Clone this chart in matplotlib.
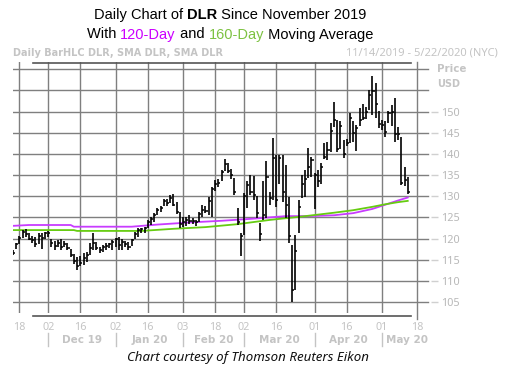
import matplotlib
matplotlib.use('Agg')
import matplotlib.pyplot as plt
from matplotlib.transforms import blended_transform_factory
from matplotlib.lines import Line2D

W, H = 509, 378

# daily bars, index 0 = 11/14/2019 (trading days)
highs = [117.4, 119.0, 120.6, 122.0, 122.2, 121.2, 120.6, 120.4, 121.2, 121.2,
         121.6, 121.8, 119.8, 119.4, 119.6, 119.8, 119.4, 119.0, 117.6, 116.4,
         115.6, 115.8, 116.5, 116.9, 118.9, 121.2, 119.3, 118.1, 118.5, 118.9,
         119.0, 119.6, 120.2, 120.4, 120.0, 119.5, 119.3, 120.0, 121.6, 122.4,
         122.6, 122.8, 124.4, 125.0, 126.1, 127.3, 127.6, 129.4, 129.4, 130.2,
         130.5, 128.7, 126.3, 125.1, 125.1, 125.5, 124.9, 124.5, 126.3, 127.9,
         127.6, 129.8, 132.2, 133.9, 134.0, 136.3, 138.7, 137.8, 136.5, 134.3,
         127.2, 121.3, 130.8, 133.5, 135.1, 134.7, 130.0, 123.7, 133.5, 138.3,
         131.0, 143.8, 139.7, 139.7, 139.7, 137.4, 129.9, 118.5, 120.8, 129.1,
         135.0, 136.2, 141.3, 139.3, 135.4, 136.2, 137.8, 142.5, 142.9, 147.2,
         152.3, 148.0, 147.7, 143.3, 143.5, 149.7, 147.7, 146.9, 150.9, 151.7,
         151.0, 155.2, 158.4, 156.8, 150.1, 148.1, 147.7, 150.1, 151.5, 153.2,
         146.4, 143.9, 137.0, 134.6]
lows = [116.0, 117.5, 118.8, 120.2, 120.4, 119.6, 119.0, 118.0, 118.8, 117.6,
        120.0, 120.4, 118.0, 117.4, 117.9, 117.2, 117.9, 117.4, 115.6, 114.0,
        112.5, 113.4, 113.7, 114.5, 116.1, 117.3, 117.3, 116.5, 116.9, 117.3,
        117.7, 117.3, 118.1, 117.3, 117.3, 118.0, 117.3, 118.2, 120.0, 120.4,
        121.2, 121.3, 122.4, 123.2, 124.0, 125.5, 126.3, 127.6, 127.6, 128.3,
        127.6, 125.9, 122.6, 122.8, 123.0, 123.4, 123.4, 122.9, 123.9, 125.1,
        126.0, 125.5, 125.1, 131.2, 132.2, 133.5, 135.9, 135.5, 134.1, 130.4,
        123.3, 115.8, 120.9, 127.2, 130.4, 129.2, 124.9, 119.4, 124.5, 124.9,
        128.0, 129.2, 127.5, 133.0, 128.7, 124.8, 118.9, 105.1, 107.8, 121.2,
        129.5, 129.9, 134.2, 134.6, 127.1, 132.2, 133.0, 138.9, 138.5, 140.5,
        146.4, 140.5, 141.2, 139.0, 141.8, 142.5, 142.9, 140.6, 146.5, 148.1,
        148.2, 150.5, 149.3, 148.5, 146.1, 145.7, 144.1, 147.3, 146.5, 142.9,
        143.3, 132.7, 132.4, 130.5]
closes = [116.6, 118.6, 120.2, 121.6, 121.0, 120.0, 119.6, 118.6, 120.6, 120.2,
          121.2, 121.4, 119.0, 118.2, 119.0, 118.0, 118.8, 117.8, 116.0, 114.6,
          113.6, 114.2, 115.4, 116.2, 117.8, 119.0, 117.8, 117.2, 118.0, 118.2,
          118.6, 119.2, 119.8, 118.4, 119.2, 118.8, 118.0, 119.6, 121.0, 122.0,
          122.2, 122.4, 123.8, 124.6, 125.6, 126.8, 127.2, 128.8, 128.4, 129.6,
          128.0, 126.3, 123.4, 124.0, 124.4, 124.2, 124.2, 123.8, 125.8, 126.8,
          126.4, 128.8, 131.6, 133.0, 133.2, 135.8, 137.6, 136.0, 135.0, 131.0,
          124.0, 120.6, 130.0, 132.6, 131.0, 130.2, 126.0, 121.0, 125.5, 134.5,
          129.5, 139.0, 129.0, 139.0, 131.0, 128.0, 120.5, 107.8, 117.0, 127.5,
          133.0, 134.0, 137.0, 138.5, 135.0, 133.5, 137.0, 139.3, 141.0, 145.5,
          148.0, 141.2, 146.5, 140.0, 142.6, 148.5, 145.0, 146.2, 148.0, 148.6,
          150.0, 154.0, 154.8, 151.8, 147.0, 146.8, 145.2, 149.6, 149.8, 144.8,
          144.6, 133.2, 133.8, 131.0]

# moving averages read at a few bars
ma120_idx = [0, 5, 18, 19, 37, 45, 55, 65, 75, 85, 92, 100, 106, 112, 116, 120, 123]
ma120 = [123.0, 123.2, 123.2, 122.8, 122.8, 123.3, 123.8, 124.2, 124.7, 125.3,
         125.3, 125.5, 126.0, 127.0, 128.0, 129.0, 129.7]
ma160_idx = [0, 19, 20, 40, 50, 60, 70, 80, 90, 100, 106, 112, 116, 120, 123]
ma160 = [122.0, 122.0, 121.8, 121.8, 122.3, 122.7, 123.4, 124.4, 125.2, 126.1,
         126.7, 127.5, 128.1, 128.6, 128.9]

day_ticks = [2, 11, 21, 32, 42, 53, 63, 72, 82, 94, 104, 115, 126]
day_labels = ['18', '02', '16', '02', '16', '03', '18', '02', '16', '01', '16', '01', '18']
month_bounds = [11, 32, 53, 72, 94, 115]
month_labels = ['Dec 19', 'Jan 20', 'Feb 20', 'Mar 20', 'Apr 20', 'May 20']
price_ticks = [105, 110, 115, 120, 125, 130, 135, 140, 145, 150]
grid_levels = [105, 110, 115, 120, 125, 130, 135, 140, 145, 150, 155, 160]

MAGENTA = '#cc00ff'
GREEN = '#7dc242'
LIGHT = '#c4c4c4'
GRID = '#7f7f7f'
SMALL = 'Noto Sans'
BOLD = 'DejaVu Sans'


def fx(x):
    return x / W


def fy(y):
    return 1 - y / H


fig = plt.figure(figsize=(W / 100, H / 100), dpi=100)
fig.patch.set_facecolor('white')
renderer = fig.canvas.get_renderer()


def fit(t, width):
    # scale a text so it spans the given pixel width
    w = t.get_window_extent(renderer).width
    t.set_fontsize(t.get_fontsize() * width / w)
    return t


# plot area in pixels: x 12.7..431, y 62..313
ax = fig.add_axes([fx(12.7), fy(313), (431 - 12.7) / W, (313 - 62) / H])
ax.set_xlim(-0.06, 130.25)
ax.set_ylim(102.4, 161.73)
for s in ax.spines.values():
    s.set_visible(False)

for lev in grid_levels:
    ax.axhline(lev, xmin=0, xmax=(428 - 12.7) / (431 - 12.7), color=GRID, lw=1, zorder=1)
for t in day_ticks[:-1]:
    ax.axvline(t, color=GRID, lw=1, zorder=1)
ax.axvline(day_ticks[-1], ymin=-6 / 251, ymax=1, color=GRID, lw=1, zorder=1, clip_on=False)

ax.plot(ma120_idx, ma120, color='#c83cff', lw=1.3, zorder=2)
ax.plot(ma160_idx, ma160, color='#66cc11', lw=1.3, zorder=2)

idx = list(range(len(closes)))
ax.vlines(idx, lows, highs, color='black', lw=1.2, zorder=3)
ax.hlines(closes, idx, [i + 0.65 for i in idx], color='black', lw=1.1, zorder=3)

ax.set_xticks([])
ax.yaxis.tick_right()
ax.set_yticks(price_ticks)
ax.set_yticklabels([str(p) for p in price_ticks])
ax.tick_params(axis='y', length=5, width=1, color='#d0d0d0', labelcolor='#b8b8b8',
               pad=2, labelsize=7.8)
for lab in ax.get_yticklabels():
    lab.set_family(SMALL)

# dark bars above and below the plot
fig.add_artist(Line2D([fx(33), fx(411)], [fy(62.5), fy(62.5)], color='#555555', lw=1.2))
fig.add_artist(Line2D([fx(33), fx(411)], [fy(316), fy(316)], color='#555555', lw=1.2))

# date axis
tr = blended_transform_factory(ax.transData, fig.transFigure)
for t, lab in zip(day_ticks, day_labels):
    ax.text(t, fy(327), lab, transform=tr, ha='center', va='center', color=LIGHT,
            fontsize=7.8, family=SMALL, clip_on=False)
ends = month_bounds[1:] + [130.4]
for b in month_bounds:
    ax.add_line(Line2D([b, b], [fy(333), fy(346)], transform=tr, color=LIGHT, lw=1, clip_on=False))
month_size = None
for b0, b1, lab in zip(month_bounds, ends, month_labels):
    t = ax.text((b0 + b1) / 2, fy(340), lab, transform=tr, ha='center', va='center',
                color=LIGHT, fontsize=8, fontweight='bold', family=BOLD, clip_on=False)
    if month_size is None:
        month_size = fit(t, 40).get_fontsize()
    t.set_fontsize(month_size)

fit(fig.text(fx(437), fy(69), 'Price', color=LIGHT, fontsize=8, fontweight='bold',
             family=BOLD, va='center', ha='left'), 29)
fit(fig.text(fx(437), fy(84), 'USD', color=LIGHT, fontsize=8, fontweight='bold',
             family=BOLD, va='center', ha='left'), 23)

fit(fig.text(fx(13), fy(53), 'Daily BarHLC DLR, SMA DLR, SMA DLR', color=LIGHT,
             fontsize=8.0, fontweight='bold', family=BOLD, va='center', ha='left'), 211)
fit(fig.text(fx(498), fy(53), '11/14/2019 - 5/22/2020 (NYC)', color=LIGHT,
             fontsize=8.0, family=SMALL, va='center', ha='right'), 152)

fit(fig.text(fx(248), fy(357), 'Chart courtesy of Thomson Reuters Eikon', color='#111111',
             fontsize=9.3, style='italic', family=SMALL, va='center', ha='center'), 242)


def draw_pieces(pieces, xc, y, size):
    texts = []
    for s, c, w in pieces:
        texts.append(fig.text(0, fy(y), s, color=c, fontweight=w, fontsize=size,
                              family='Liberation Sans', va='center', ha='left'))
    widths = [t.get_window_extent(renderer).width for t in texts]
    x = xc - sum(widths) / 2
    for t, w in zip(texts, widths):
        t.set_x(x / W)
        x += w


draw_pieces([('Daily Chart of ', 'black', 'normal'), ('DLR', 'black', 'bold'),
             (' Since November 2019', 'black', 'normal')], 230, 15, 10.5)
draw_pieces([('With ', 'black', 'normal'), ('120-Day', MAGENTA, 'normal'),
             (' and ', 'black', 'normal'), ('160-Day', GREEN, 'normal'),
             (' Moving Average', 'black', 'normal')], 230, 34.5, 10.5)

fig.savefig('out.png', dpi=100)
